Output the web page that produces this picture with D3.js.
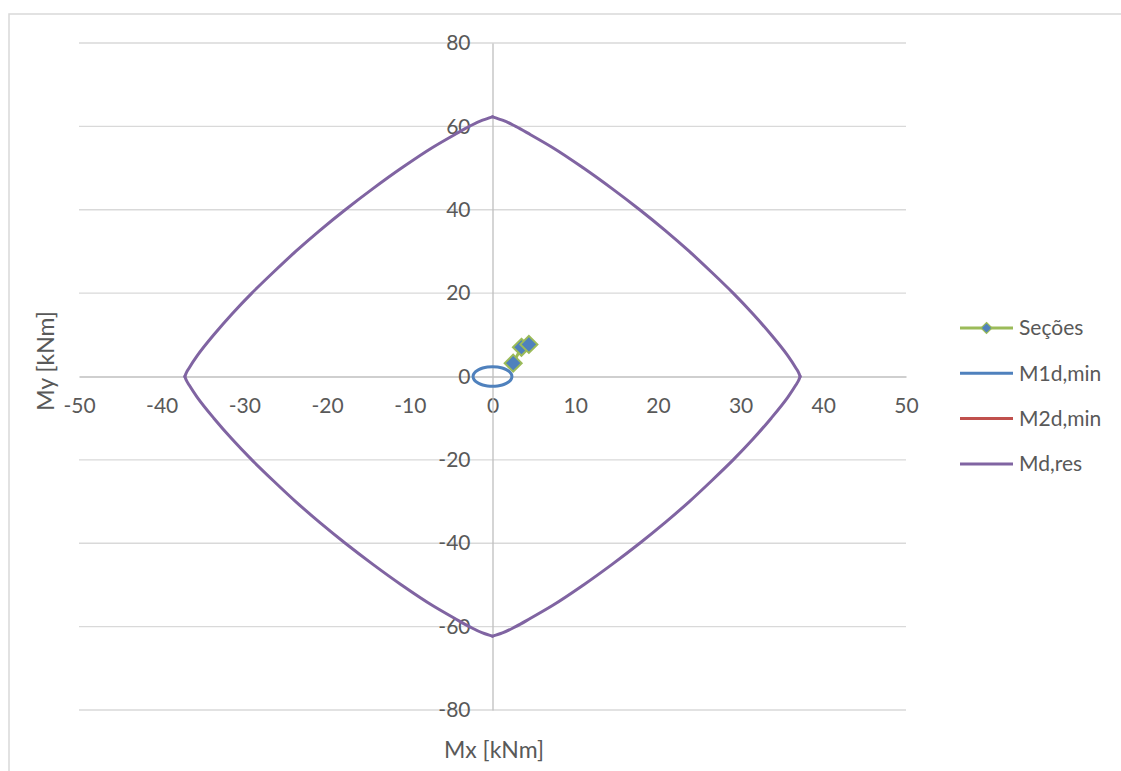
<!DOCTYPE html>
<html>
<head>
<meta charset="utf-8">
<script src="https://cdn.jsdelivr.net/npm/d3@7"></script>
<style>
  html, body { margin: 0; padding: 0; background: #fff; }
  svg { display: block; }
  text { font-family: Lato, "Open Sans", sans-serif; fill: #595959; }
</style>
</head>
<body>
<svg id="chart" width="1121" height="771"></svg>
<script>
// Axis ticks
const xTicks = [-50, -40, -30, -20, -10, 0, 10, 20, 30, 40, 50];
const yTicks = [-80, -60, -40, -20, 0, 20, 40, 60, 80];

// Series names (legend order)
const seriesNames = ["Seções", "M1d,min", "M2d,min", "Md,res"];

// Section moments [Mx, My] in kNm
const secoes = [[2.5, 3.2], [3.5, 7.0], [4.4, 7.7]];

// Minimum first-order moment envelope [Mx, My]
const m1dMin = [
  [2.35, 0], [2.27, 0.61], [2.04, 1.18], [1.66, 1.66], [1.18, 2.04], [0.61, 2.27],
  [0, 2.35], [-0.61, 2.27], [-1.18, 2.04], [-1.66, 1.66], [-2.04, 1.18], [-2.27, 0.61],
  [-2.35, 0], [-2.27, -0.61], [-2.04, -1.18], [-1.66, -1.66], [-1.18, -2.04], [-0.61, -2.27],
  [0, -2.35], [0.61, -2.27], [1.18, -2.04], [1.66, -1.66], [2.04, -1.18], [2.27, -0.61]
];

// Minimum second-order moment envelope (no points plotted)
const m2dMin = [];

// Resisting moment envelope [Mx, My]
const mdRes = [
  [37.2, 0], [37.0, 1], [36.7, 2], [35.7, 5], [33.7, 10], [31.5, 15], [29.1, 20], [26.5, 25],
  [23.8, 30], [20.9, 35], [17.8, 40], [14.5, 45], [11.0, 50], [7.2, 55], [4.6, 58], [2.8, 60],
  [1.2, 61.5], [0, 62.3],
  [-1.2, 61.5], [-2.8, 60], [-4.6, 58], [-7.2, 55], [-11.0, 50], [-14.5, 45], [-17.8, 40],
  [-20.9, 35], [-23.8, 30], [-26.5, 25], [-29.1, 20], [-31.5, 15], [-33.7, 10], [-35.7, 5],
  [-36.7, 2], [-37.0, 1], [-37.2, 0],
  [-37.0, -1], [-36.7, -2], [-35.7, -5], [-33.7, -10], [-31.5, -15], [-29.1, -20], [-26.5, -25],
  [-23.8, -30], [-20.9, -35], [-17.8, -40], [-14.5, -45], [-11.0, -50], [-7.2, -55], [-4.6, -58],
  [-2.8, -60], [-1.2, -61.5], [0, -62.3],
  [1.2, -61.5], [2.8, -60], [4.6, -58], [7.2, -55], [11.0, -50], [14.5, -45], [17.8, -40],
  [20.9, -35], [23.8, -30], [26.5, -25], [29.1, -20], [31.5, -15], [33.7, -10], [35.7, -5],
  [36.7, -2], [37.0, -1], [37.2, 0]
];

const colors = { secLine: "#9bbb59", secFill: "#4f81bd", m1: "#4f81bd", m2: "#c0504d", md: "#8064a2" };

const svg = d3.select("#chart");

// Outer chart frame
svg.append("rect")
  .attr("x", 9).attr("y", 14).attr("width", 1130).attr("height", 780)
  .attr("fill", "#fff").attr("stroke", "#d9d9d9").attr("stroke-width", 1.5);

const plot = { left: 79, right: 906, top: 43, bottom: 710 };
const x = d3.scaleLinear().domain([-50, 50]).range([plot.left, plot.right]);
const y = d3.scaleLinear().domain([-80, 80]).range([plot.bottom, plot.top]);

// Horizontal gridlines
svg.append("g").selectAll("line").data(yTicks.filter(d => d !== 0)).join("line")
  .attr("x1", plot.left).attr("x2", plot.right)
  .attr("y1", d => y(d)).attr("y2", d => y(d))
  .attr("stroke", "#d9d9d9").attr("stroke-width", 1.3);

// Axes crossing at the origin
const fmt = d => String(d);
const xAxis = d3.axisBottom(x).tickValues(xTicks).tickFormat(fmt).tickSize(0).tickPadding(22);
const gx = svg.append("g").attr("transform", `translate(0,${y(0)})`).call(xAxis);
gx.select(".domain").attr("stroke", "#bfbfbf").attr("stroke-width", 1.3);
gx.selectAll("text").style("font-size", "21px").attr("fill", "#595959")
  .style("font-family", "Lato, 'Open Sans', sans-serif");

const yAxis = d3.axisLeft(y).tickValues(yTicks).tickFormat(fmt).tickSize(0).tickPadding(22);
const gy = svg.append("g").attr("transform", `translate(${x(0)},0)`).call(yAxis);
gy.select(".domain").attr("stroke", "#bfbfbf").attr("stroke-width", 1.3);
gy.selectAll("text").style("font-size", "21px").attr("fill", "#595959")
  .style("font-family", "Lato, 'Open Sans', sans-serif");

const line = d3.line().x(d => x(d[0])).y(d => y(d[1]));
const smooth = d3.line().x(d => x(d[0])).y(d => y(d[1])).curve(d3.curveMonotoneY);
const closedSmooth = d3.line().x(d => x(d[0])).y(d => y(d[1])).curve(d3.curveCatmullRomClosed);

// Split a closed envelope into arcs between its corner points on the axes
function splitAtAxes(pts) {
  const parts = [];
  let cur = [pts[0]];
  for (let i = 1; i < pts.length; i++) {
    cur.push(pts[i]);
    if (pts[i][0] === 0 || pts[i][1] === 0) {
      parts.push(cur);
      cur = [pts[i]];
    }
  }
  if (cur.length > 1) parts.push(cur);
  return parts;
}

// Seções
svg.append("path").datum(secoes).attr("d", line)
  .attr("fill", "none").attr("stroke", colors.secLine).attr("stroke-width", 3);
const diamond = r => `M0,${-r}L${r},0L0,${r}L${-r},0Z`;
svg.append("g").selectAll("path").data(secoes).join("path")
  .attr("transform", d => `translate(${x(d[0])},${y(d[1])})`)
  .attr("d", diamond(8.5))
  .attr("fill", colors.secFill).attr("stroke", colors.secLine).attr("stroke-width", 2);

// M1d,min
svg.append("path").datum(m1dMin).attr("d", closedSmooth)
  .attr("fill", "none").attr("stroke", colors.m1).attr("stroke-width", 3);

// M2d,min
if (m2dMin.length) {
  svg.append("path").datum(m2dMin).attr("d", line)
    .attr("fill", "none").attr("stroke", colors.m2).attr("stroke-width", 3);
}

// Md,res
svg.append("g").selectAll("path").data(splitAtAxes(mdRes)).join("path")
  .attr("d", smooth)
  .attr("fill", "none").attr("stroke", colors.md).attr("stroke-width", 3)
  .attr("stroke-linejoin", "round").attr("stroke-linecap", "round");

// Axis titles
svg.append("text").attr("x", 494).attr("y", 750).attr("dy", "0.35em")
  .attr("text-anchor", "middle").style("font-size", "23px").text("Mx [kNm]");
svg.append("text").attr("transform", "translate(46,361) rotate(-90)").attr("dy", "0.35em")
  .attr("text-anchor", "middle").style("font-size", "23px").text("My [kNm]");

// Legend
const legendColors = [colors.secLine, colors.m1, colors.m2, colors.md];
const lg = svg.append("g").selectAll("g").data(seriesNames).join("g")
  .attr("transform", (d, i) => `translate(960,${328 + i * 45.3})`);
lg.append("line").attr("x1", 0).attr("x2", 53).attr("y1", 0).attr("y2", 0)
  .attr("stroke", (d, i) => legendColors[i]).attr("stroke-width", 3);
lg.filter((d, i) => i === 0).append("path")
  .attr("transform", "translate(26.5,0)").attr("d", diamond(5.5))
  .attr("fill", colors.secFill).attr("stroke", colors.secLine).attr("stroke-width", 1.2);
lg.append("text").attr("x", 59).attr("y", 0).attr("dy", "0.35em")
  .style("font-size", "21px").text(d => d);
</script>
</body>
</html>
